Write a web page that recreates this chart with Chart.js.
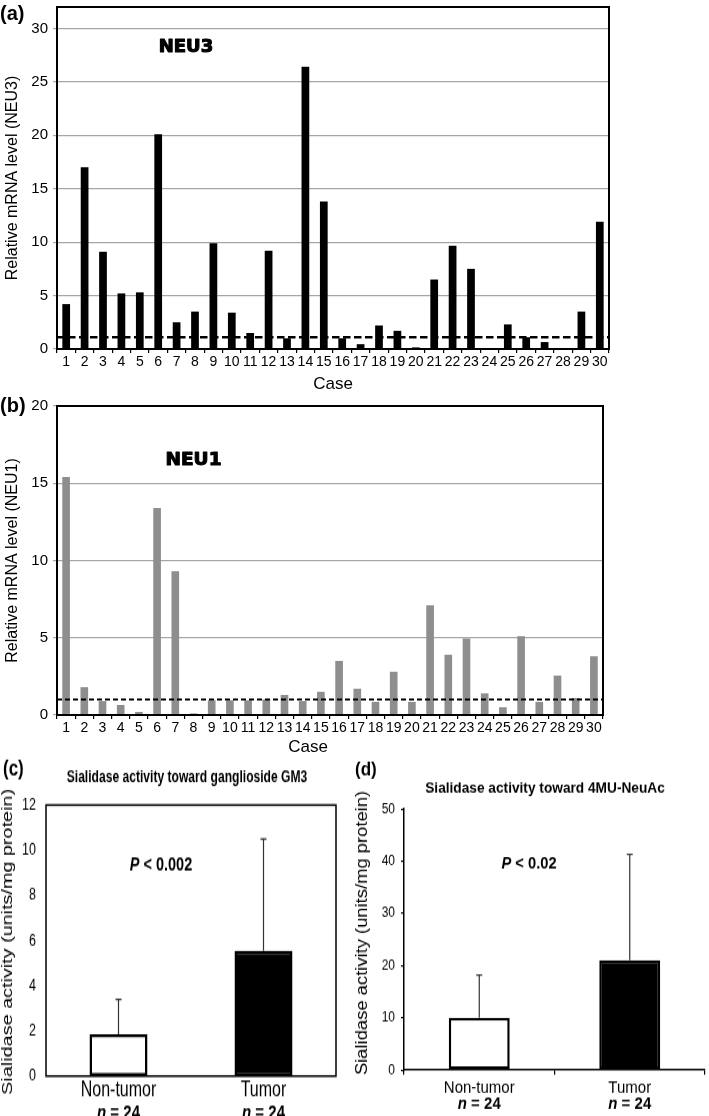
<!DOCTYPE html>
<html><head><meta charset="utf-8">
<script src="https://cdn.jsdelivr.net/npm/chart.js@4.4.1/dist/chart.umd.min.js"></script>
<style>
html,body{margin:0;padding:0;background:#fff;width:709px;height:1116px;overflow:hidden;position:relative}
.p{position:absolute}
canvas{display:block}
</style></head><body>
<div class="p" style="left:0;top:0"><canvas id="ca" width="709" height="395"></canvas></div>
<div class="p" style="left:0;top:392px"><canvas id="cb" width="709" height="365"></canvas></div>
<div class="p" style="left:0;top:757px;transform:scaleY(1.32);transform-origin:0 0"><canvas id="cc" width="355" height="272"></canvas></div>
<div class="p" style="left:355px;top:757px;transform:scaleY(1.15);transform-origin:0 0"><canvas id="cd" width="354" height="312"></canvas></div>
<script>
// ---------- DATA ----------
const cases = ['1','2','3','4','5','6','7','8','9','10','11','12','13','14','15','16','17','18','19','20','21','22','23','24','25','26','27','28','29','30'];
const neu3Values = [4.2,17.0,9.1,5.2,5.3,20.1,2.5,3.5,9.9,3.4,1.5,9.2,1.0,26.4,13.8,1.0,0.45,2.2,1.7,0.15,6.5,9.65,7.5,0,2.3,1.1,0.65,0,3.5,11.9];
const neu1Values = [15.4,1.8,0.9,0.65,0.2,13.4,9.3,0.1,0.95,0.95,0.95,1.0,1.3,0.9,1.5,3.5,1.7,0.85,2.8,0.85,7.1,3.9,4.95,1.4,0.5,5.1,0.85,2.55,1.1,3.8];
const neu3Ticks = [0,5,10,15,20,25,30];
const neu1Ticks = [0,5,10,15,20];
const neu3Cutoff = 1.1;
const neu1Cutoff = 1.0;
const groups = ['Non-tumor','Tumor'];
const groupN = [24,24];
const gm3Mean = [1.85,5.55];
const gm3SD = [1.55,4.95];
const muMean = [10.0,21.0];
const muSD = [8.2,20.3];
const gm3Ticks = [0,2,4,6,8,10,12];
const muTicks = [0,10,20,30,40,50];
const activityTitle = 'Sialidase activity (units/mg protein)';

// ---------- HELPERS ----------
const FONT = "'Liberation Sans', Arial, Helvetica, sans-serif";
Chart.defaults.font.family = FONT;
Chart.defaults.color = '#000';
Chart.defaults.animation = false;
Chart.defaults.plugins.legend.display = false;
Chart.defaults.plugins.tooltip.enabled = false;

function fixY(w){ return s => { s.width = w; s.paddingTop = 0; s.paddingBottom = 0; }; }
function fixX(h){ return s => { s.height = h; s.paddingLeft = 0; s.paddingRight = 0; }; }
function setTicks(arr){ return s => { s.ticks = arr.map(v => ({value:v})); }; }

function fontOf(p, size){ return (p.i ? 'italic ' : '') + (p.b ? 'bold ' : '') + size + 'px ' + (p.f || FONT); }
function txt(ctx, parts, x, y, size, align, rot){
  ctx.save();
  ctx.translate(x, y);
  if (rot) ctx.rotate(-Math.PI/2);
  let w = 0;
  parts.forEach(p => { ctx.font = fontOf(p, size); p.w = ctx.measureText(p.t).width; w += p.w; });
  let cx = align === 'left' ? 0 : -w/2;
  ctx.textBaseline = 'middle'; ctx.textAlign = 'left'; ctx.fillStyle = '#000'; ctx.strokeStyle = '#000';
  parts.forEach(p => {
    ctx.font = fontOf(p, size);
    ctx.fillText(p.t, cx, 0);
    if (p.s) { ctx.lineWidth = p.s; ctx.lineJoin = 'round'; ctx.strokeText(p.t, cx, 0); }
    cx += p.w;
  });
  ctx.restore();
}
function boxPlugin(lw){
  return {id:'box', afterDraw(chart){
    const {ctx, chartArea:a} = chart;
    ctx.save(); ctx.strokeStyle = '#000'; ctx.lineWidth = lw;
    ctx.strokeRect(a.left, a.top, a.right - a.left, a.bottom - a.top);
    ctx.restore();
  }};
}
function refLine(value, dash, lw){
  return {id:'ref', afterDatasetsDraw(chart){
    const {ctx, chartArea:a, scales:{y}} = chart;
    const py = y.getPixelForValue(value);
    ctx.save(); ctx.strokeStyle = '#000'; ctx.lineWidth = lw; ctx.setLineDash(dash);
    ctx.beginPath(); ctx.moveTo(a.left, py); ctx.lineTo(a.right, py); ctx.stroke();
    ctx.restore();
  }};
}
function errBars(means, sds){
  return {id:'err', afterDatasetsDraw(chart){
    const {ctx, scales:{y}} = chart;
    const meta = chart.getDatasetMeta(0);
    ctx.save(); ctx.strokeStyle = '#333'; ctx.lineWidth = 1.2;
    meta.data.forEach((bar, i) => {
      const top = y.getPixelForValue(means[i] + sds[i]);
      ctx.beginPath();
      ctx.moveTo(bar.x, bar.y); ctx.lineTo(bar.x, top);
      ctx.moveTo(bar.x - 3, top); ctx.lineTo(bar.x + 3, top);
      ctx.stroke();
    });
    ctx.restore();
  }};
}
function nLabels(dy, size){
  return {id:'nlab', afterDraw(chart){
    const {ctx, chartArea:a, scales:{x}} = chart;
    groupN.forEach((n, i) => {
      txt(ctx, [{t:'n', i:true, b:true}, {t:' = ' + n, b:true}], x.getPixelForValue(i), a.bottom + dy, size);
    });
  }};
}
function textPlugin(items){
  return {id:'texts', afterDraw(chart){
    const ctx = chart.ctx;
    items.forEach(it => txt(ctx, it.parts, it.x, it.y, it.size, it.align, it.rot));
  }};
}
const BLACKFONT = "'DejaVu Sans', sans-serif";

// ---------- (a) NEU3 ----------
new Chart(document.getElementById('ca'), {
  type:'bar',
  data:{labels:cases, datasets:[{data:neu3Values, backgroundColor:'#000', barPercentage:0.42, categoryPercentage:1}]},
  options:{
    responsive:false,
    layout:{padding:{left:0, top:7, right:100, bottom:0}},
    scales:{
      x:{afterFit:fixX(46),
         grid:{display:true, drawOnChartArea:false, drawTicks:true, tickLength:4, color:'#000', lineWidth:1.2},
         border:{display:true, color:'#000', width:2},
         ticks:{font:{size:14}, padding:1, autoSkip:false, maxRotation:0},
         title:{display:true, text:'Case', font:{size:17}, padding:{top:0, bottom:0}}},
      y:{min:0, max:32, afterFit:fixY(57), afterBuildTicks:setTicks(neu3Ticks),
         grid:{color:'#a6a6a6', lineWidth:1.2, tickLength:4},
         border:{display:true, color:'#000', width:2},
         ticks:{font:{size:15}, padding:5},
         title:{display:true, text:'Relative mRNA level (NEU3)', font:{size:16}, padding:{top:3.4, bottom:0}}}
    }
  },
  plugins:[refLine(neu3Cutoff, [7.5,3.5], 2.6), boxPlugin(2),
    textPlugin([
      {parts:[{t:'(a)', b:true}], x:0, y:14.5, size:20, align:'left'},
      {parts:[{t:'NEU3', b:true, f:BLACKFONT, s:1.1}], x:186, y:47, size:18}
    ])]
});

// ---------- (b) NEU1 ----------
new Chart(document.getElementById('cb'), {
  type:'bar',
  data:{labels:cases, datasets:[{data:neu1Values, backgroundColor:'#8e8e8e', barPercentage:0.42, categoryPercentage:1}]},
  options:{
    responsive:false,
    layout:{padding:{left:0, top:14, right:106, bottom:0}},
    scales:{
      x:{afterFit:fixX(42),
         grid:{display:true, drawOnChartArea:false, drawTicks:true, tickLength:4, color:'#000', lineWidth:1.2},
         border:{display:true, color:'#000', width:2},
         ticks:{font:{size:14}, padding:1, autoSkip:false, maxRotation:0}},
      y:{min:0, max:20, afterFit:fixY(57), afterBuildTicks:setTicks(neu1Ticks),
         grid:{color:'#a6a6a6', lineWidth:1.2, tickLength:4},
         border:{display:true, color:'#000', width:2},
         ticks:{font:{size:15}, padding:5},
         title:{display:true, text:'Relative mRNA level (NEU1)', font:{size:16}, padding:{top:3.4, bottom:0}}}
    }
  },
  plugins:[refLine(neu1Cutoff, [5,3], 2), boxPlugin(2),
    textPlugin([
      {parts:[{t:'(b)', b:true}], x:0, y:14.5, size:20, align:'left'},
      {parts:[{t:'NEU1', b:true, f:BLACKFONT, s:1.1}], x:193.5, y:68, size:18.5},
      {parts:[{t:'Case'}], x:308, y:355.5, size:17}
    ])]
});

// ---------- (c) GM3 ----------
new Chart(document.getElementById('cc'), {
  type:'bar',
  data:{labels:groups, datasets:[{data:gm3Mean, backgroundColor:['#fff','#000'], borderColor:'#000', borderWidth:2.5, borderSkipped:false, barPercentage:0.4, categoryPercentage:1}]},
  options:{
    responsive:false,
    layout:{padding:{left:0, top:36.4, right:19, bottom:0}},
    scales:{
      x:{afterFit:fixX(30.3), grid:{display:false, drawTicks:false, tickLength:0}, border:{display:false},
         ticks:{font:{size:16}, padding:1.5, autoSkip:false, maxRotation:0}},
      y:{min:0, max:12, afterFit:fixY(46), afterBuildTicks:setTicks(gm3Ticks),
         grid:{display:false, drawTicks:false, tickLength:0}, border:{display:false},
         ticks:{font:{size:12.5}, padding:10},
         title:{display:false, text:activityTitle}}
    }
  },
  plugins:[errBars(gm3Mean, gm3SD), boxPlugin(1.5), nLabels(28, 15),
    textPlugin([
      {parts:[{t:'(c)', b:true}], x:3, y:9.8, size:17, align:'left'},
      {parts:[{t:'Sialidase activity toward ganglioside GM3', b:true}], x:187, y:16, size:12.1},
      {parts:[{t:'P', i:true, b:true}, {t:' < 0.002', b:true}], x:161, y:81.8, size:14.5},
      {parts:[{t:activityTitle}], x:8, y:140, size:15, rot:true}
    ])]
});

// ---------- (d) 4MU-NeuAc ----------
new Chart(document.getElementById('cd'), {
  type:'bar',
  data:{labels:groups, datasets:[{data:muMean, backgroundColor:['#fff','#000'], borderColor:'#000', borderWidth:2.5, borderSkipped:false, barPercentage:0.405, categoryPercentage:1}]},
  options:{
    responsive:false,
    layout:{padding:{left:0, top:45.2, right:4, bottom:0}},
    scales:{
      x:{afterFit:fixX(39.8),
         grid:{display:true, drawOnChartArea:false, drawTicks:true, tickLength:4, color:'#000', lineWidth:1.2},
         border:{display:true, color:'#000', width:1.5},
         ticks:{font:{size:15}, padding:3, autoSkip:false, maxRotation:0}},
      y:{min:0, max:50, afterFit:fixY(49), afterBuildTicks:setTicks(muTicks),
         grid:{display:true, drawOnChartArea:false, drawTicks:true, tickLength:3, color:'#000', lineWidth:1.2},
         border:{display:true, color:'#000', width:1.5},
         ticks:{font:{size:12}, padding:6},
         title:{display:false, text:activityTitle}}
    }
  },
  plugins:[errBars(muMean, muSD), nLabels(29.5, 15),
    textPlugin([
      {parts:[{t:'(d)', b:true}], x:0, y:11.3, size:17, align:'left'},
      {parts:[{t:'Sialidase activity toward 4MU-NeuAc', b:true}], x:190, y:27, size:13.7},
      {parts:[{t:'P', i:true, b:true}, {t:' < 0.02', b:true}], x:174, y:93, size:14.7},
      {parts:[{t:activityTitle}], x:8, y:153, size:16, rot:true}
    ])]
});
</script>
</body></html>
